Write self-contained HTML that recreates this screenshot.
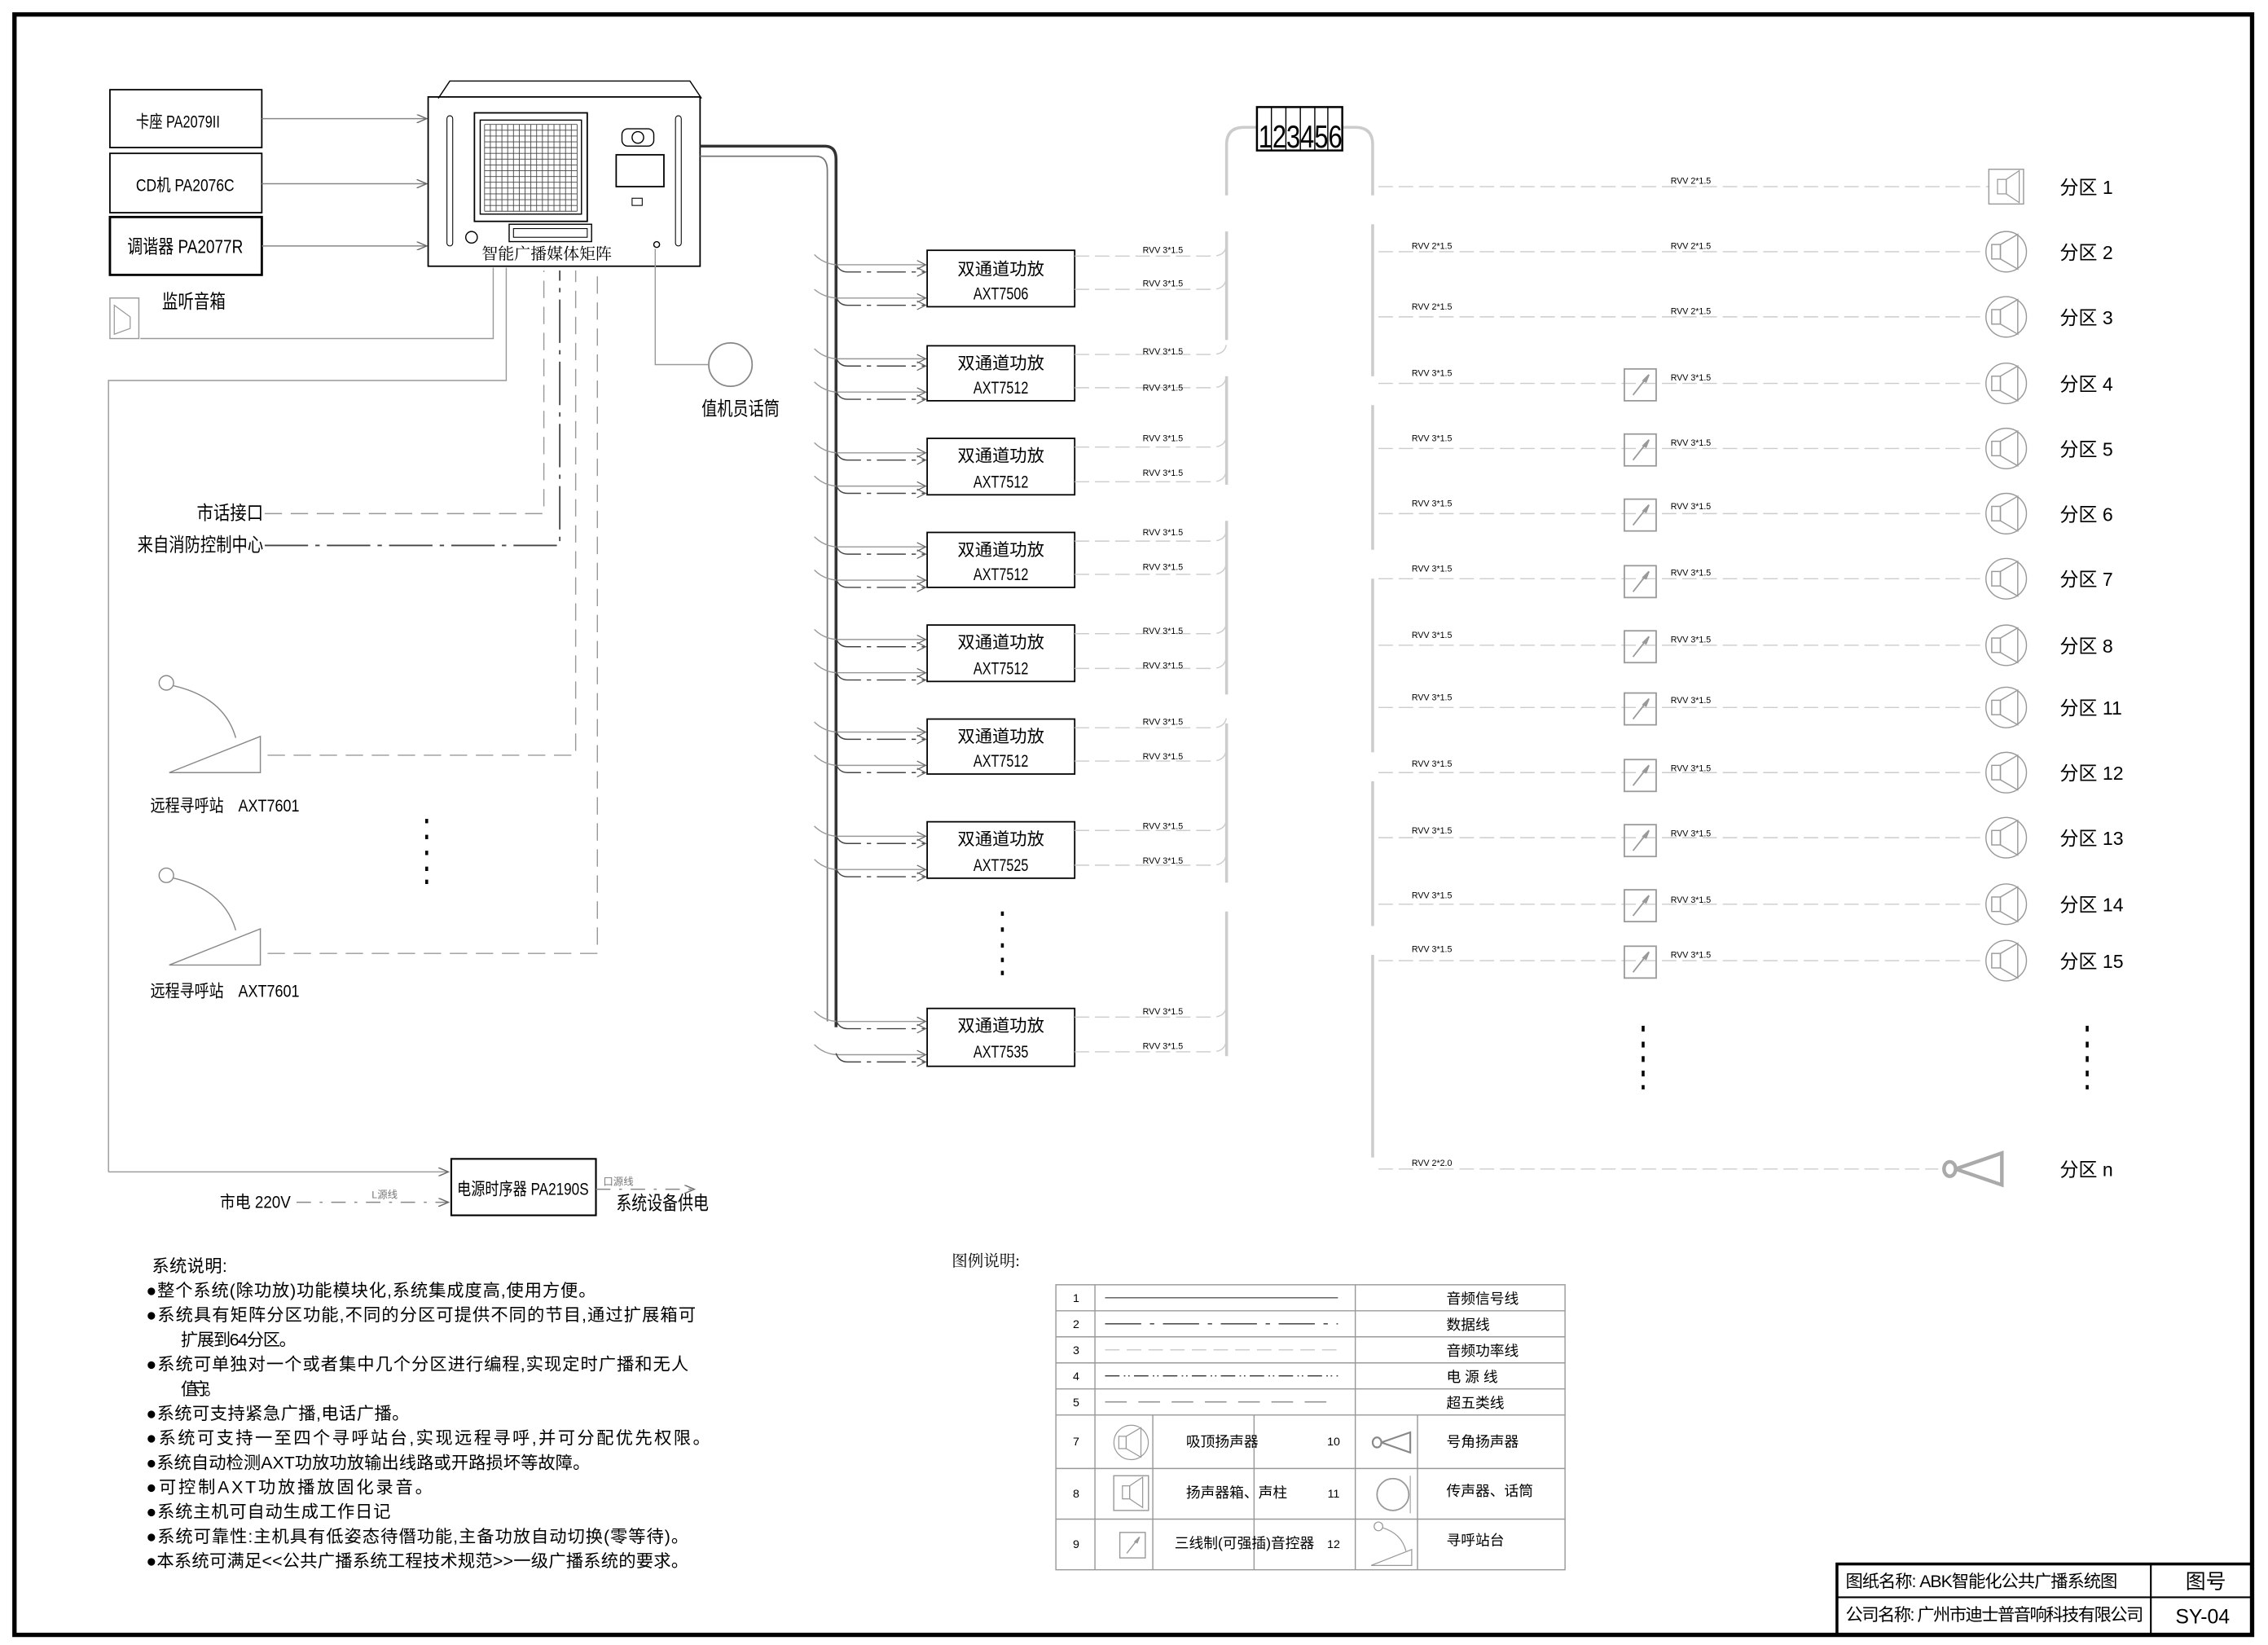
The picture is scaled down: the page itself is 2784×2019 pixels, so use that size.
<!DOCTYPE html>
<html><head><meta charset="utf-8"><style>
html,body{margin:0;padding:0;background:#fff;width:2784px;height:2019px;overflow:hidden}
svg{display:block}
text{font-family:"Liberation Sans","Noto Sans CJK SC",sans-serif;fill:#000}
.s{font-family:"Liberation Serif","Noto Serif CJK SC",serif}
.g{fill:#777}
</style></head><body>
<svg width="2784" height="2019" viewBox="0 0 1568 1137" preserveAspectRatio="none" xmlns="http://www.w3.org/2000/svg">
<defs>
<g id="spk" fill="none" stroke="#999" stroke-width="0.8"><circle r="14"/><rect x="-10" y="-5" width="6" height="10"/><polygon points="-4,-5 8,-12 8,12 -4,5"/></g>
<g id="vol" fill="none" stroke="#999" stroke-width="1"><rect x="-11" y="-11" width="22" height="22"/><line x1="-5" y1="7" x2="6" y2="-7"/><polygon points="6,-7 2,-3 4,-2" fill="#999"/></g>
<g id="ps" fill="none" stroke="#888" stroke-width="0.8"><circle cx="-70" cy="-50" r="5"/><path d="M-65,-48 Q-30,-40 -22,-12"/><polygon points="-68,12 -5,12 -5,-13"/></g>
<marker id="ar" markerWidth="8" markerHeight="6" refX="7" refY="3" orient="auto" markerUnits="userSpaceOnUse"><path d="M0,0 L7,3 L0,6" fill="none" stroke="#666" stroke-width="0.8"/></marker>
</defs>

<rect x="10" y="10" width="1547" height="1120" fill="none" stroke="#000" stroke-width="3"/>

<g fill="none" stroke="#000">
<rect x="76" y="62" width="105" height="40" stroke-width="1"/>
<rect x="76" y="106" width="105" height="41" stroke-width="1"/>
<rect x="76" y="150" width="105" height="40" stroke-width="1.6"/>
</g>
<text x="94" y="88" font-size="12" textLength="58" lengthAdjust="spacingAndGlyphs">卡座 PA2079II</text>
<text x="94" y="132" font-size="12" textLength="68" lengthAdjust="spacingAndGlyphs">CD机 PA2076C</text>
<text x="88" y="175" font-size="13" textLength="80" lengthAdjust="spacingAndGlyphs">调谐器 PA2077R</text>
<g stroke="#888" stroke-width="0.8" marker-end="url(#ar)">
<line x1="181" y1="82" x2="295" y2="82"/><line x1="181" y1="127" x2="295" y2="127"/><line x1="181" y1="170" x2="295" y2="170"/>
</g>

<g fill="none" stroke="#000">
<polyline points="303,68 311,56 477,56 485,68" stroke-width="0.8"/>
<rect x="296" y="67" width="188" height="117" stroke-width="1"/>
<rect x="309" y="80" width="4" height="90" rx="2" stroke-width="0.6"/>
<rect x="467" y="80" width="4" height="90" rx="2" stroke-width="0.6"/>
<rect x="328" y="78" width="78" height="75" stroke-width="1"/>
<rect x="332" y="83" width="70" height="65" stroke-width="0.8"/>
<rect x="426" y="107" width="33" height="22" stroke-width="1"/>
<rect x="430" y="89" width="22" height="12" rx="4" stroke-width="0.8"/>
<circle cx="441" cy="95" r="4" stroke-width="0.8"/>
<rect x="352" y="155" width="57" height="12" stroke-width="0.8"/>
<rect x="355" y="158" width="51" height="6" stroke-width="0.6"/>
<circle cx="326" cy="164" r="4" stroke-width="0.8"/>
<circle cx="454" cy="169" r="2" stroke-width="0.8"/>
<rect x="437" y="137" width="7" height="5" stroke-width="0.6"/>
</g>
<g stroke="#444" stroke-width="0.5">
<path d="M335,86 H399 M335,90 H399 M335,94 H399 M335,98 H399 M335,102 H399 M335,106 H399 M335,110 H399 M335,114 H399 M335,118 H399 M335,122 H399 M335,126 H399 M335,130 H399 M335,134 H399 M335,138 H399 M335,142 H399 M335,146 H399"/>
<path d="M335,86 V146 M339,86 V146 M343,86 V146 M347,86 V146 M351,86 V146 M355,86 V146 M359,86 V146 M363,86 V146 M367,86 V146 M371,86 V146 M375,86 V146 M379,86 V146 M383,86 V146 M387,86 V146 M391,86 V146 M395,86 V146 M399,86 V146"/>
</g>
<text x="333" y="179" font-size="11" class="s" textLength="90" lengthAdjust="spacingAndGlyphs">智能广播媒体矩阵</text>

<rect x="76" y="206" width="20" height="28" fill="none" stroke="#999" stroke-width="0.8"/>
<polygon points="79,211 90,219 90,227 79,231" fill="none" stroke="#999" stroke-width="0.7"/>
<text x="112" y="213" font-size="13" textLength="44" lengthAdjust="spacingAndGlyphs">监听音箱</text>
<polyline points="97,234 341,234 341,185" fill="none" stroke="#999" stroke-width="0.8"/>
<polyline points="75,810 75,263 350,263 350,185" fill="none" stroke="#999" stroke-width="0.8"/>
<line x1="75" y1="810" x2="310" y2="810" stroke="#999" stroke-width="0.8" marker-end="url(#ar)"/>

<circle cx="505" cy="252" r="15" fill="none" stroke="#888" stroke-width="1"/>
<polyline points="490,252 453,252 453,172" fill="none" stroke="#999" stroke-width="0.8"/>
<text x="485" y="287" font-size="13" textLength="54" lengthAdjust="spacingAndGlyphs">值机员话筒</text>

<text x="136" y="359" font-size="13" textLength="46" lengthAdjust="spacingAndGlyphs">市话接口</text>
<text x="95" y="381" font-size="13" textLength="87" lengthAdjust="spacingAndGlyphs">来自消防控制中心</text>
<polyline points="183,355 376,355 376,187" fill="none" stroke="#999" stroke-width="0.8" stroke-dasharray="12,6"/>
<polyline points="183,377 387,377 387,187" fill="none" stroke="#444" stroke-width="1" stroke-dasharray="30,5,3,5"/>
<polyline points="185,522 398,522 398,187" fill="none" stroke="#999" stroke-width="0.8" stroke-dasharray="12,6"/>
<polyline points="185,659 413,659 413,187" fill="none" stroke="#999" stroke-width="0.8" stroke-dasharray="12,6"/>

<use href="#ps" x="185" y="522"/>
<use href="#ps" x="185" y="655"/>
<text x="104" y="561" font-size="12" textLength="103" lengthAdjust="spacingAndGlyphs">远程寻呼站　AXT7601</text>
<text x="104" y="689" font-size="12" textLength="103" lengthAdjust="spacingAndGlyphs">远程寻呼站　AXT7601</text>
<g fill="#000"><rect x="294" y="566" width="2" height="3"/><rect x="294" y="577" width="2" height="3"/><rect x="294" y="588" width="2" height="3"/><rect x="294" y="599" width="2" height="3"/><rect x="294" y="608" width="2" height="3"/></g>

<rect x="312" y="801" width="100" height="39" fill="none" stroke="#000" stroke-width="1.2"/>
<text x="316" y="826" font-size="12" textLength="91" lengthAdjust="spacingAndGlyphs">电源时序器 PA2190S</text>
<text x="152" y="835" font-size="12" textLength="49" lengthAdjust="spacingAndGlyphs">市电 220V</text>
<line x1="205" y1="831" x2="310" y2="831" stroke="#888" stroke-width="0.8" stroke-dasharray="10,6,2,6" marker-end="url(#ar)"/>
<text x="257" y="828" font-size="7" class="g">L源线</text>
<line x1="412" y1="822" x2="480" y2="822" stroke="#888" stroke-width="0.8" stroke-dasharray="10,6,2,6" marker-end="url(#ar)"/>
<text x="417" y="819" font-size="7" class="g">口源线</text>
<text x="426" y="836" font-size="13" textLength="64" lengthAdjust="spacingAndGlyphs">系统设备供电</text>

<path d="M484,101 H570 Q578,101 578,110 V710" fill="none" stroke="#333" stroke-width="2"/>
<path d="M484,108 H564 Q572,108 572,118 V706" fill="none" stroke="#777" stroke-width="1"/>

<g fill="none" stroke-width="0.8">
<path d="M563,176 Q570,183 580,183 H640 M563,200 Q570,206 580,206 H640 M563,241 Q570,248 580,248 H640 M563,264 Q570,271 580,271 H640 M563,306 Q570,313 580,313 H640 M563,329 Q570,336 580,336 H640 M563,371 Q570,378 580,378 H640 M563,394 Q570,401 580,401 H640 M563,435 Q570,442 580,442 H640 M563,458 Q570,465 580,465 H640 M563,499 Q570,506 580,506 H640 M563,522 Q570,529 580,529 H640 M563,571 Q570,578 580,578 H640 M563,594 Q570,601 580,601 H640 M563,699 Q570,706 580,706 H640 M563,722 Q570,729 580,729 H640" stroke="#999"/>
<path d="M578,182 Q580,188 586,188 H640 M578,205 Q580,211 586,211 H640 M578,247 Q580,253 586,253 H640 M578,270 Q580,276 586,276 H640 M578,312 Q580,318 586,318 H640 M578,335 Q580,341 586,341 H640 M578,377 Q580,383 586,383 H640 M578,400 Q580,406 586,406 H640 M578,441 Q580,447 586,447 H640 M578,464 Q580,470 586,470 H640 M578,505 Q580,511 586,511 H640 M578,528 Q580,534 586,534 H640 M578,577 Q580,583 586,583 H640 M578,600 Q580,606 586,606 H640 M578,705 Q580,711 586,711 H640 M578,728 Q580,734 586,734 H640" stroke="#444" stroke-dasharray="20,4,3,4"/>
</g>
<g stroke="#666" stroke-width="0.7" fill="none">
<path d="M634,180 L640,183 L634,186 M634,185 L640,188 L634,191 M634,203 L640,206 L634,209 M634,208 L640,211 L634,214 M634,245 L640,248 L634,251 M634,250 L640,253 L634,256 M634,268 L640,271 L634,274 M634,273 L640,276 L634,279 M634,310 L640,313 L634,316 M634,315 L640,318 L634,321 M634,333 L640,336 L634,339 M634,338 L640,341 L634,344 M634,375 L640,378 L634,381 M634,380 L640,383 L634,386 M634,398 L640,401 L634,404 M634,403 L640,406 L634,409 M634,439 L640,442 L634,445 M634,444 L640,447 L634,450 M634,462 L640,465 L634,468 M634,467 L640,470 L634,473 M634,503 L640,506 L634,509 M634,508 L640,511 L634,514 M634,526 L640,529 L634,532 M634,531 L640,534 L634,537 M634,575 L640,578 L634,581 M634,580 L640,583 L634,586 M634,598 L640,601 L634,604 M634,603 L640,606 L634,609 M634,703 L640,706 L634,709 M634,708 L640,711 L634,714 M634,726 L640,729 L634,732 M634,731 L640,734 L634,737"/>
</g>
<g fill="#fff" stroke="#000" stroke-width="1">
<rect x="641" y="173" width="102" height="39"/><rect x="641" y="239" width="102" height="38"/><rect x="641" y="303" width="102" height="39"/><rect x="641" y="368" width="102" height="38"/><rect x="641" y="432" width="102" height="39"/><rect x="641" y="497" width="102" height="38"/><rect x="641" y="568" width="102" height="39"/><rect x="641" y="697" width="102" height="40"/>
</g>
<g font-size="12" text-anchor="middle">
<text x="692" y="190">双通道功放</text><text x="692" y="207" textLength="38" lengthAdjust="spacingAndGlyphs">AXT7506</text>
<text x="692" y="255">双通道功放</text><text x="692" y="272" textLength="38" lengthAdjust="spacingAndGlyphs">AXT7512</text>
<text x="692" y="319">双通道功放</text><text x="692" y="337" textLength="38" lengthAdjust="spacingAndGlyphs">AXT7512</text>
<text x="692" y="384">双通道功放</text><text x="692" y="401" textLength="38" lengthAdjust="spacingAndGlyphs">AXT7512</text>
<text x="692" y="448">双通道功放</text><text x="692" y="466" textLength="38" lengthAdjust="spacingAndGlyphs">AXT7512</text>
<text x="692" y="513">双通道功放</text><text x="692" y="530" textLength="38" lengthAdjust="spacingAndGlyphs">AXT7512</text>
<text x="692" y="584">双通道功放</text><text x="692" y="602" textLength="38" lengthAdjust="spacingAndGlyphs">AXT7525</text>
<text x="692" y="713">双通道功放</text><text x="692" y="731" textLength="38" lengthAdjust="spacingAndGlyphs">AXT7535</text>
</g>
<g fill="#000"><rect x="692" y="630" width="2" height="3"/><rect x="692" y="641" width="2" height="3"/><rect x="692" y="652" width="2" height="3"/><rect x="692" y="662" width="2" height="3"/><rect x="692" y="671" width="2" height="3"/></g>

<g fill="none" stroke="#ccc" stroke-width="0.8" stroke-dasharray="10,4">
<path d="M743,177 H838 Q848,177 848,168 M743,200 H838 Q848,200 848,190 M743,245 H838 Q848,245 848,236 M743,268 H838 Q848,268 848,258 M743,309 H838 Q848,309 848,300 M743,333 H838 Q848,333 848,323 M743,374 H838 Q848,374 848,365 M743,397 H838 Q848,397 848,387 M743,438 H838 Q848,438 848,429 M743,462 H838 Q848,462 848,452 M743,503 H838 Q848,503 848,494 M743,526 H838 Q848,526 848,516 M743,574 H838 Q848,574 848,565 M743,598 H838 Q848,598 848,588 M743,703 H838 Q848,703 848,694 M743,727 H838 Q848,727 848,717"/>
</g>
<g font-size="6" class="g">
<text x="790" y="175">RVV 3*1.5</text><text x="790" y="198">RVV 3*1.5</text>
<text x="790" y="245">RVV 3*1.5</text><text x="790" y="270">RVV 3*1.5</text>
<text x="790" y="305">RVV 3*1.5</text><text x="790" y="329">RVV 3*1.5</text>
<text x="790" y="370">RVV 3*1.5</text><text x="790" y="394">RVV 3*1.5</text>
<text x="790" y="438">RVV 3*1.5</text><text x="790" y="462">RVV 3*1.5</text>
<text x="790" y="501">RVV 3*1.5</text><text x="790" y="525">RVV 3*1.5</text>
<text x="790" y="573">RVV 3*1.5</text><text x="790" y="597">RVV 3*1.5</text>
<text x="790" y="701">RVV 3*1.5</text><text x="790" y="725">RVV 3*1.5</text>
</g>

<g fill="none" stroke="#ccc" stroke-width="2">
<path d="M848,135 V100 Q848,88 860,88 H869"/>
<path d="M928,88 H937 Q949,88 949,100 V135"/>
<path d="M848,160 V235 M848,260 V335 M848,360 V480 M848,500 V610 M848,630 V730"/>
<path d="M949,155 V260 M949,280 V380 M949,400 V520 M949,540 V640 M949,660 V800"/>
</g>
<rect x="869" y="74" width="59" height="30" fill="#fff" stroke="#000" stroke-width="1.4"/>
<g stroke="#000" stroke-width="0.8"><line x1="879" y1="74" x2="879" y2="104"/><line x1="889" y1="74" x2="889" y2="104"/><line x1="899" y1="74" x2="899" y2="104"/><line x1="909" y1="74" x2="909" y2="104"/><line x1="918" y1="74" x2="918" y2="104"/></g>
<text x="870" y="102" font-size="22" textLength="58" lengthAdjust="spacingAndGlyphs" style="font-weight:200">123456</text>

<g fill="none" stroke="#ccc" stroke-width="0.8" stroke-dasharray="10,4">
<path d="M953,129 H1375 M953,174 H1373 M953,219 H1373 M953,265 H1373 M953,310 H1373 M953,355 H1373 M953,400 H1373 M953,446 H1373 M953,489 H1373 M953,534 H1373 M953,579 H1373 M953,625 H1373 M953,664 H1373 M953,808 H1340"/>
</g>
<rect x="1375" y="117" width="24" height="24" fill="#fff" stroke="#999" stroke-width="0.8"/>
<rect x="1381" y="124" width="6" height="10" fill="none" stroke="#999" stroke-width="0.7"/>
<polygon points="1387,124 1396,118 1396,140 1387,134" fill="none" stroke="#999" stroke-width="0.7"/>
<g fill="#fff">
<use href="#spk" x="1387" y="174"/><use href="#spk" x="1387" y="219"/><use href="#spk" x="1387" y="265"/><use href="#spk" x="1387" y="310"/><use href="#spk" x="1387" y="355"/><use href="#spk" x="1387" y="400"/><use href="#spk" x="1387" y="446"/><use href="#spk" x="1387" y="489"/><use href="#spk" x="1387" y="534"/><use href="#spk" x="1387" y="579"/><use href="#spk" x="1387" y="625"/><use href="#spk" x="1387" y="664"/>
</g>
<g fill="#fff">
<use href="#vol" x="1134" y="266"/><use href="#vol" x="1134" y="311"/><use href="#vol" x="1134" y="356"/><use href="#vol" x="1134" y="402"/><use href="#vol" x="1134" y="447"/><use href="#vol" x="1134" y="490"/><use href="#vol" x="1134" y="536"/><use href="#vol" x="1134" y="581"/><use href="#vol" x="1134" y="626"/><use href="#vol" x="1134" y="665"/>
</g>
<g fill="none" stroke="#aaa" stroke-width="2.5"><ellipse cx="1348" cy="808" rx="4" ry="5"/><polyline points="1352,808 1384,797 1384,819 1352,808"/></g>

<g font-size="6" class="g">
<text x="1155" y="127">RVV 2*1.5</text>
<text x="976" y="172">RVV 2*1.5</text><text x="1155" y="172">RVV 2*1.5</text>
<text x="976" y="214">RVV 2*1.5</text><text x="1155" y="217">RVV 2*1.5</text>
<text x="976" y="260">RVV 3*1.5</text><text x="1155" y="263">RVV 3*1.5</text>
<text x="976" y="305">RVV 3*1.5</text><text x="1155" y="308">RVV 3*1.5</text>
<text x="976" y="350">RVV 3*1.5</text><text x="1155" y="352">RVV 3*1.5</text>
<text x="976" y="395">RVV 3*1.5</text><text x="1155" y="398">RVV 3*1.5</text>
<text x="976" y="441">RVV 3*1.5</text><text x="1155" y="444">RVV 3*1.5</text>
<text x="976" y="484">RVV 3*1.5</text><text x="1155" y="486">RVV 3*1.5</text>
<text x="976" y="530">RVV 3*1.5</text><text x="1155" y="533">RVV 3*1.5</text>
<text x="976" y="576">RVV 3*1.5</text><text x="1155" y="578">RVV 3*1.5</text>
<text x="976" y="621">RVV 3*1.5</text><text x="1155" y="624">RVV 3*1.5</text>
<text x="976" y="658">RVV 3*1.5</text><text x="1155" y="662">RVV 3*1.5</text>
<text x="976" y="806">RVV 2*2.0</text>
</g>
<g font-size="13">
<text x="1424" y="134">分区 1</text><text x="1424" y="179">分区 2</text><text x="1424" y="224">分区 3</text><text x="1424" y="270">分区 4</text><text x="1424" y="315">分区 5</text><text x="1424" y="360">分区 6</text><text x="1424" y="405">分区 7</text><text x="1424" y="451">分区 8</text><text x="1424" y="494">分区 11</text><text x="1424" y="539">分区 12</text><text x="1424" y="584">分区 13</text><text x="1424" y="630">分区 14</text><text x="1424" y="669">分区 15</text><text x="1424" y="813">分区 n</text>
</g>
<g fill="#000"><rect x="1135" y="709" width="2" height="4"/><rect x="1135" y="720" width="2" height="4"/><rect x="1135" y="730" width="2" height="4"/><rect x="1135" y="740" width="2" height="4"/><rect x="1135" y="750" width="2" height="3"/>
<rect x="1442" y="709" width="2" height="4"/><rect x="1442" y="720" width="2" height="4"/><rect x="1442" y="730" width="2" height="4"/><rect x="1442" y="740" width="2" height="4"/><rect x="1442" y="750" width="2" height="3"/></g>

<g font-size="12" class="s" lengthAdjust="spacingAndGlyphs">
<text x="105" y="879" textLength="52">系统说明:</text>
<text x="101" y="896" textLength="311">●整个系统(除功放)功能模块化,系统集成度高,使用方便。</text>
<text x="101" y="913" textLength="380">●系统具有矩阵分区功能,不同的分区可提供不同的节目,通过扩展箱可</text>
<text x="125" y="930" textLength="80">扩展到64分区。</text>
<text x="101" y="947" textLength="375">●系统可单独对一个或者集中几个分区进行编程,实现定时广播和无人</text>
<text x="125" y="964" textLength="28">值守。</text>
<text x="101" y="981" textLength="182">●系统可支持紧急广播,电话广播。</text>
<text x="101" y="998" textLength="390">●系统可支持一至四个寻呼站台,实现远程寻呼,并可分配优先权限。</text>
<text x="101" y="1015" textLength="307">●系统自动检测AXT功放功放输出线路或开路损坏等故障。</text>
<text x="101" y="1032" textLength="198">●可控制AXT功放播放固化录音。</text>
<text x="101" y="1049" textLength="169">●系统主机可自动生成工作日记</text>
<text x="101" y="1066" textLength="375">●系统可靠性:主机具有低姿态待僭功能,主备功放自动切换(零等待)。</text>
<text x="101" y="1083" textLength="375">●本系统可满足&lt;&lt;公共广播系统工程技术规范&gt;&gt;一级广播系统的要求。</text>
</g>

<text x="658" y="875" font-size="11" class="s">图例说明:</text>
<g fill="none" stroke="#999" stroke-width="0.8">
<rect x="730" y="888" width="352" height="197"/>
<path d="M730,906 H1082 M730,924 H1082 M730,942 H1082 M730,960 H1082 M730,978 H1082 M730,1015 H1082 M730,1050 H1082"/>
<path d="M757,888 V1085 M937,888 V1085 M797,978 V1085 M867,978 V1085 M980,978 V1085"/>
</g>
<g stroke-width="0.8" fill="none">
<line x1="764" y1="897" x2="925" y2="897" stroke="#555"/>
<line x1="764" y1="915" x2="925" y2="915" stroke="#333" stroke-dasharray="25,6,3,6"/>
<line x1="764" y1="933" x2="925" y2="933" stroke="#ccc" stroke-dasharray="10,5"/>
<line x1="764" y1="951" x2="925" y2="951" stroke="#333" stroke-dasharray="10,3,1,2,1,3"/>
<line x1="764" y1="969" x2="925" y2="969" stroke="#888" stroke-dasharray="15,8"/>
</g>
<g font-size="8" class="g" text-anchor="middle"><text x="744" y="900">1</text><text x="744" y="918">2</text><text x="744" y="936">3</text><text x="744" y="954">4</text><text x="744" y="972">5</text><text x="744" y="999">7</text><text x="744" y="1035">8</text><text x="744" y="1070">9</text></g>
<g font-size="8" text-anchor="middle"><text x="922" y="999">10</text><text x="922" y="1035">11</text><text x="922" y="1070">12</text></g>
<g font-size="10" class="s">
<text x="1000" y="901">音频信号线</text><text x="1000" y="919">数据线</text><text x="1000" y="937">音频功率线</text><text x="1000" y="955">电 源 线</text><text x="1000" y="973">超五类线</text>
<text x="820" y="1000">吸顶扬声器</text><text x="820" y="1035">扬声器箱、声柱</text><text x="812" y="1070">三线制(可强插)音控器</text>
<text x="1000" y="1000">号角扬声器</text><text x="1000" y="1034">传声器、话筒</text><text x="1000" y="1068">寻呼站台</text>
</g>
<use href="#spk" x="782" y="997" transform="translate(782 997) scale(0.85) translate(-782 -997)"/>
<rect x="770" y="1020" width="24" height="24" fill="none" stroke="#999" stroke-width="0.8"/>
<rect x="776" y="1027" width="5" height="9" fill="none" stroke="#999" stroke-width="0.7"/>
<polygon points="781,1027 790,1021 790,1042 781,1036" fill="none" stroke="#999" stroke-width="0.7"/>
<use href="#vol" x="783" y="1068" transform="translate(783 1068) scale(0.8) translate(-783 -1068)"/>
<g fill="none" stroke="#888" stroke-width="1.2"><ellipse cx="952" cy="997" rx="3" ry="3.5"/><polyline points="955,997 975,990 975,1004 955,997"/></g>
<circle cx="963" cy="1033" r="11" fill="none" stroke="#999" stroke-width="1"/><line x1="975" y1="1020" x2="975" y2="1046" stroke="#999" stroke-width="0.6"/>
<g fill="none" stroke="#999" stroke-width="0.7"><circle cx="953" cy="1055" r="3"/><path d="M956,1056 Q969,1060 972,1072"/><polygon points="948,1082 976,1082 976,1071"/></g>

<g fill="none" stroke="#000">
<rect x="1270" y="1081" width="287" height="49" stroke-width="2"/>
<line x1="1270" y1="1104" x2="1557" y2="1104" stroke-width="1.2"/>
<line x1="1487" y1="1081" x2="1487" y2="1130" stroke-width="1.2"/>
</g>
<g font-size="12" class="s" lengthAdjust="spacingAndGlyphs">
<text x="1276" y="1097" textLength="188">图纸名称: ABK智能化公共广播系统图</text>
<text x="1276" y="1120" textLength="206">公司名称: 广州市迪士普音响科技有限公司</text>
<text x="1511" y="1098" font-size="14">图号</text>
<text x="1504" y="1122" font-size="14">SY-04</text>
</g>
</svg>
</body></html>
